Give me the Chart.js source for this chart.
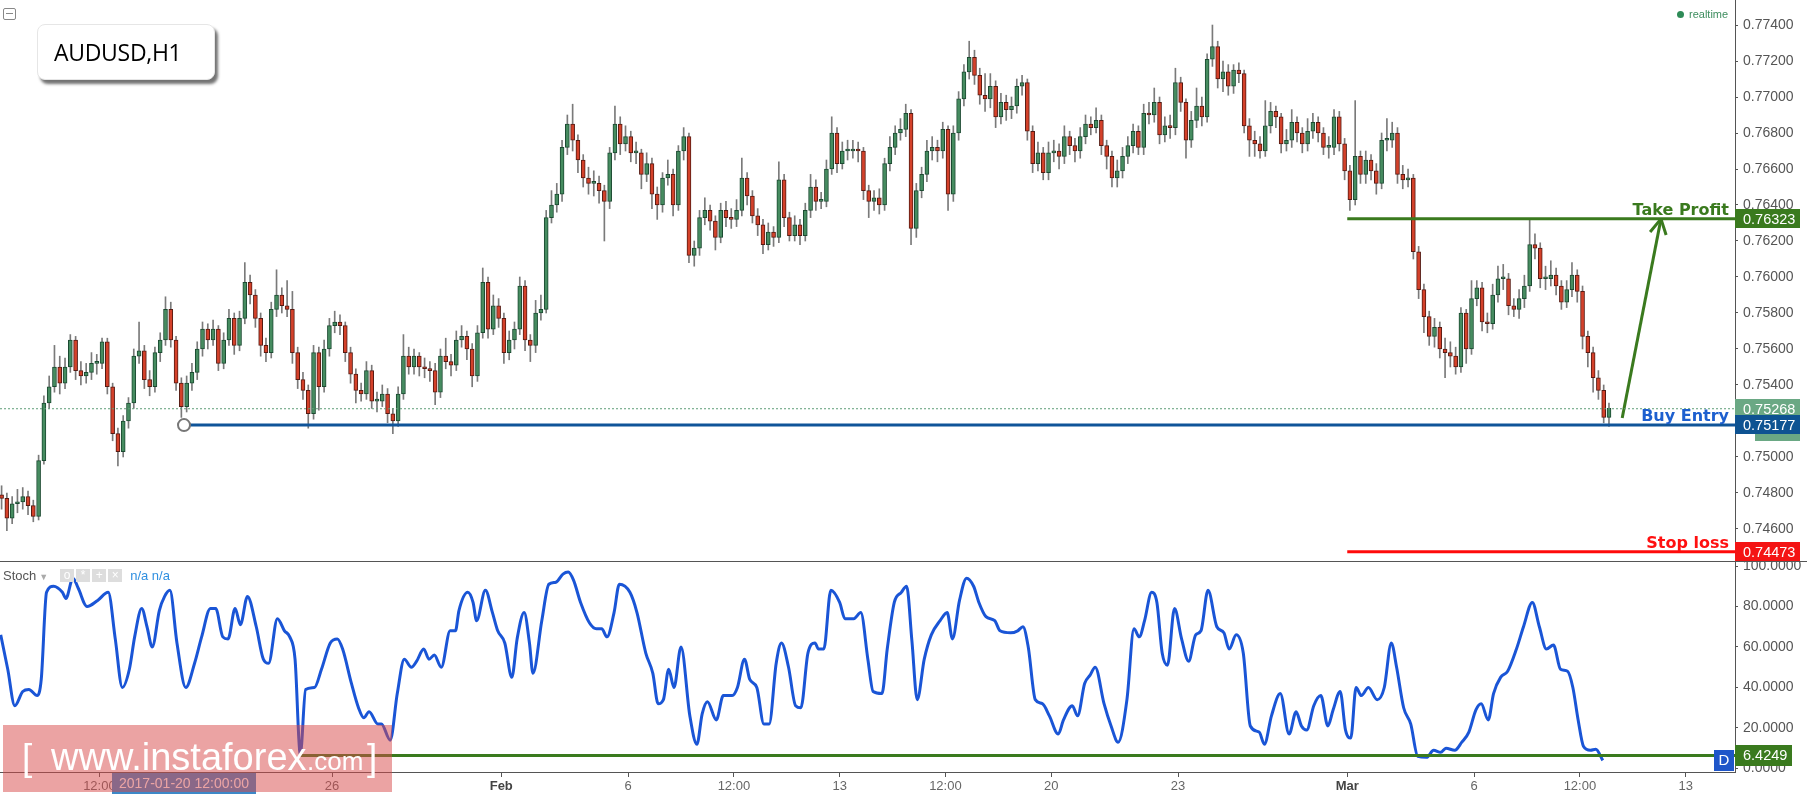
<!DOCTYPE html>
<html>
<head>
<meta charset="utf-8">
<title>AUDUSD,H1</title>
<script src="https://cdn.jsdelivr.net/npm/chart.js@4.4.1/dist/chart.umd.min.js"></script>
<style>
  html, body { margin: 0; padding: 0; background: #fff; }
  body { width: 1807px; height: 794px; position: relative; overflow: hidden; font-family: 'Liberation Sans', Arial, sans-serif; }
  #priceCanvas { position: absolute; left: 0; top: 0; }
  #stochCanvas { position: absolute; left: 0; top: 561px; }
  #collapse { position: absolute; left: 3px; top: 8px; width: 11px; height: 10px; border: 1px solid #888; border-radius: 2px; }
  #collapse:after { content: ''; position: absolute; left: 2px; right: 2px; top: 4px; height: 1px; background: #888; }
  #symbol { position: absolute; left: 37px; top: 24px; width: 178px; height: 56px; box-sizing: border-box; border: 1px solid #e6e6e6;
            border-radius: 8px; background: #fff; box-shadow: 3px 4px 3px rgba(0,0,0,0.55);
            font: 23px 'Open Sans', sans-serif; line-height: 54px; padding-left: 16px; color: #000; letter-spacing: -0.3px; }
  #realtime { position: absolute; left: 1677px; top: 6px; font-size: 11px; color: #3d8d5e; line-height: 16px; }
  #realtime span { display: inline-block; width: 7px; height: 7px; border-radius: 50%; background: #2e8b57; margin-right: 5px; vertical-align: 0; }
  #stochHead { position: absolute; left: 3px; top: 568px; height: 16px; font-size: 13px; line-height: 16px; color: #555; white-space: nowrap; }
  #stochHead .arrow { color: #aaa; font-size: 9px; margin-left: 3px; }
  #stochHead .btn { display: inline-block; width: 14px; height: 13px; background: #ddd; color: #fff; font-size: 12px; line-height: 13px; text-align: center; margin-right: 2px; vertical-align: 1px; }
  #stochHead .first { margin-left: 12px; }
  #stochHead .na { color: #2f8fe0; margin-left: 6px; }
  #watermark { position: absolute; left: 3px; top: 725px; width: 389px; height: 67px; background: rgba(215, 72, 72, 0.5); color: #fff; }
  #watermark span { position: absolute; white-space: nowrap; line-height: 1; }
</style>
</head>
<body>
<canvas id="priceCanvas" width="1807" height="561"></canvas>
<canvas id="stochCanvas" width="1807" height="233"></canvas>
<div id="collapse"></div>
<div id="symbol">AUDUSD,H1</div>
<div id="realtime"><span></span>realtime</div>
<div id="stochHead">Stoch<span class="arrow">&#9660;</span><span class="btn first">o</span><span class="btn">*</span><span class="btn">+</span><span class="btn">&#215;</span><span class="na">n/a n/a</span></div>
<div id="watermark">
  <span style="left:19px; top:14px; font-size:37px; font-weight:300;">[</span>
  <span style="left:48px; top:13px; font-size:38px;">www.instaforex</span>
  <span style="left:304px; top:23px; font-size:26px;">.com</span>
  <span style="left:364px; top:14px; font-size:37px; font-weight:300;">]</span>
</div>

<script>
// time axis is in trading hours counted from Mon 16 Jan 2017 00:00 (weekends skipped)
const X_MIN = 3.6;
const X_MAX = 988;
const tickHours = [60, 192, 288, 360, 420, 480, 540, 600, 672, 768, 840, 900, 960];
const tickLabels = ['12:00', '26', 'Feb', '6', '12:00', '13', '12:00', '20', '23', 'Mar', '6', '12:00', '13'];

// AUDUSD 3-hour candles, prices in pips (0.0001)
const BAR_HOURS = 3;
const FIRST_BAR_HOUR = 4.5;
const firstOpen = 7479;
const priceCloses = [
  7477,7466,7474,7475,7478,7473,7467,7498,7530,7539,
  7550,7541,7550,7565,7548,7545,7547,7552,7552,7564,
  7539,7513,7503,7520,7530,7556,7559,7543,7539,7558,
  7565,7582,7565,7541,7528,7541,7547,7560,7571,7565,
  7571,7552,7565,7577,7562,7577,7597,7590,7577,7562,
  7558,7582,7590,7584,7582,7558,7543,7537,7524,7558,
  7539,7560,7573,7575,7573,7558,7546,7537,7535,7548,
  7531,7531,7535,7524,7520,7535,7556,7550,7556,7550,
  7549,7548,7536,7556,7553,7551,7565,7567,7560,7545,
  7569,7597,7571,7584,7577,7558,7565,7571,7595,7565,
  7562,7580,7582,7633,7640,7646,7672,7685,7676,7665,
  7655,7652,7652,7648,7642,7669,7685,7674,7678,7669,
  7669,7657,7663,7646,7640,7655,7657,7640,7670,7678,
  7612,7616,7633,7637,7631,7622,7637,7633,7632,7637,
  7655,7645,7634,7629,7618,7625,7622,7654,7633,7623,
  7629,7623,7637,7650,7642,7642,7660,7680,7663,7670,
  7670,7671,7670,7648,7642,7644,7640,7663,7672,7680,
  7682,7691,7627,7648,7657,7670,7672,7670,7682,7646,
  7680,7699,7714,7722,7712,7701,7699,7706,7689,7697,
  7693,7695,7706,7708,7681,7663,7669,7658,7669,7670,
  7667,7678,7673,7670,7678,7685,7683,7687,7673,7667,
  7655,7659,7667,7673,7681,7672,7691,7690,7697,7679,
  7684,7683,7708,7697,7676,7687,7695,7689,7721,7728,
  7710,7714,7706,7715,7713,7684,7676,7674,7670,7684,
  7692,7689,7674,7676,7686,7680,7674,7681,7686,7680,
  7672,7672,7689,7674,7659,7643,7667,7657,7665,7659,
  7652,7676,7676,7680,7657,7654,7655,7614,7593,7578,
  7567,7572,7560,7558,7556,7550,7580,7560,7588,7594,
  7575,7574,7590,7599,7599,7584,7582,7588,7595,7618,
  7616,7599,7599,7601,7595,7586,7593,7601,7592,7567,
  7558,7544,7537,7522,7527
];
const priceHighs = [
  7484,7480,7478,7482,7483,7481,7476,7501,7534,7545,
  7562,7556,7555,7568,7567,7553,7552,7558,7557,7566,
  7566,7541,7516,7523,7533,7560,7575,7562,7548,7561,
  7569,7589,7586,7567,7544,7545,7552,7564,7575,7574,
  7576,7573,7569,7582,7580,7581,7608,7601,7593,7580,
  7566,7586,7604,7594,7598,7592,7561,7547,7540,7562,
  7561,7565,7577,7581,7579,7575,7561,7549,7541,7553,
  7551,7536,7540,7538,7527,7539,7568,7561,7560,7558,
  7555,7553,7552,7560,7566,7557,7570,7573,7570,7563,
  7573,7605,7600,7590,7588,7580,7570,7575,7600,7598,
  7568,7587,7590,7637,7648,7652,7676,7690,7696,7679,
  7668,7661,7659,7656,7651,7672,7695,7689,7684,7681,
  7675,7671,7669,7666,7650,7658,7665,7660,7673,7683,
  7680,7620,7637,7644,7640,7634,7641,7642,7638,7643,
  7666,7658,7648,7638,7632,7630,7628,7664,7657,7636,
  7634,7632,7641,7657,7654,7647,7665,7689,7683,7675,
  7676,7676,7675,7672,7651,7648,7649,7666,7678,7684,
  7688,7696,7693,7652,7661,7676,7678,7676,7686,7684,
  7684,7703,7718,7731,7726,7716,7713,7713,7709,7702,
  7701,7700,7710,7712,7710,7684,7675,7672,7675,7676,
  7674,7684,7681,7677,7683,7690,7689,7694,7690,7676,
  7670,7665,7672,7678,7685,7684,7696,7697,7705,7700,
  7689,7690,7716,7711,7699,7692,7705,7700,7724,7740,
  7731,7720,7718,7718,7719,7715,7688,7681,7678,7698,
  7697,7695,7691,7682,7693,7689,7683,7688,7691,7689,
  7683,7678,7693,7692,7677,7662,7698,7670,7670,7668,
  7663,7680,7688,7686,7683,7662,7660,7657,7617,7596,
  7581,7577,7575,7566,7564,7561,7583,7582,7598,7598,
  7597,7580,7596,7606,7607,7602,7588,7593,7601,7632,
  7624,7619,7606,7609,7605,7598,7598,7608,7604,7595,
  7570,7561,7548,7540,7530
];
const priceLows = [
  7471,7459,7463,7469,7471,7468,7464,7465,7496,7527,
  7536,7535,7538,7547,7543,7540,7541,7543,7546,7549,
  7535,7509,7495,7500,7516,7527,7552,7538,7534,7536,
  7553,7562,7561,7537,7522,7525,7537,7543,7556,7560,
  7562,7548,7549,7562,7557,7559,7574,7585,7572,7556,
  7553,7555,7578,7580,7578,7552,7538,7532,7516,7521,
  7526,7536,7556,7569,7568,7553,7541,7530,7531,7532,
  7527,7525,7528,7519,7513,7517,7532,7546,7546,7545,
  7544,7542,7529,7533,7549,7545,7548,7561,7554,7539,
  7542,7566,7566,7568,7572,7552,7554,7560,7568,7559,
  7553,7558,7576,7580,7630,7636,7642,7668,7670,7658,
  7650,7646,7645,7641,7620,7638,7665,7668,7670,7664,
  7663,7649,7653,7638,7632,7636,7651,7634,7637,7665,
  7608,7606,7612,7629,7626,7615,7619,7628,7627,7628,
  7634,7640,7630,7623,7613,7615,7617,7619,7628,7620,
  7620,7618,7620,7633,7637,7638,7639,7657,7658,7660,
  7665,7666,7664,7643,7633,7637,7635,7637,7659,7668,
  7676,7678,7618,7622,7644,7653,7665,7664,7666,7637,
  7642,7676,7695,7710,7707,7696,7692,7694,7683,7685,
  7687,7688,7691,7701,7676,7658,7659,7654,7654,7664,
  7660,7663,7668,7664,7666,7674,7679,7680,7668,7660,
  7650,7650,7655,7663,7669,7668,7668,7685,7686,7674,
  7675,7677,7679,7692,7666,7672,7683,7684,7686,7717,
  7705,7703,7701,7702,7708,7680,7667,7667,7666,7667,
  7680,7683,7669,7670,7672,7675,7669,7670,7677,7675,
  7668,7666,7668,7670,7654,7637,7640,7652,7652,7654,
  7646,7649,7670,7672,7652,7649,7650,7610,7588,7569,
  7562,7561,7555,7544,7550,7546,7547,7552,7557,7584,
  7570,7569,7571,7586,7593,7579,7578,7577,7583,7592,
  7610,7594,7593,7595,7590,7582,7583,7589,7586,7560,
  7550,7536,7532,7519,7517
];
const priceTicks = [7460, 7480, 7500, 7520, 7540, 7560, 7580, 7600, 7620, 7640, 7660, 7680, 7700, 7720, 7740];
const PRICE_MIN = 7442.2;
const PRICE_MAX = 7753.9;

// trade levels drawn on the chart
const levelNames = ['Take Profit', 'Buy Entry', 'Stop loss'];
const levelPrices = [7632.3, 7517.7, 7447.3];
const levelStartHours = [768, 108, 768];
const lastPrice = 7526.8;
const arrowHours = [924, 946];
const arrowPrices = [7521.7, 7632.3];

// stochastic %K
const stochHours = [
  4, 8, 12, 16.5, 20, 24.7, 27, 30, 34, 39,
  41, 45, 48, 53, 59, 65, 69, 73, 77, 80,
  84, 87, 90, 94, 97, 100, 104, 109, 114, 118,
  123, 126, 130, 133, 137, 140, 144, 149, 153, 156,
  161, 165, 168, 171, 174, 177, 182, 186, 191, 195,
  198, 203, 207, 210, 213, 218, 220, 225, 229, 233,
  237, 240, 244, 247, 250, 254, 259, 262, 264, 269,
  272, 274, 279, 283, 286, 290, 294, 297, 301, 304,
  306, 311, 315, 319, 323, 326, 329, 333, 338, 342,
  345, 348, 352, 355, 361, 365, 370, 374, 377, 380,
  383, 386, 390, 395, 399, 402, 405, 410, 414, 419,
  422, 426, 429, 433, 437, 440, 444, 447, 451, 455,
  458, 462, 466, 468, 471, 475, 480, 483, 488, 492,
  496, 499, 504, 507, 511, 515, 518, 521, 524, 528,
  532, 537, 541, 544, 548, 552, 556, 559, 563, 568,
  571, 577, 581, 584, 587, 591, 595, 599, 604, 607,
  612, 615, 619, 622, 625, 630, 634, 638, 643, 647,
  650, 653, 657, 660, 663, 666, 670, 674, 678, 682,
  685, 689, 694, 698, 701, 705, 709, 713, 718, 721,
  725, 730, 735, 739, 742, 745, 749, 753, 757, 760,
  764, 767, 770, 773, 776, 780, 785, 789, 793, 796,
  800, 804, 808, 813, 817, 821, 824, 829, 833, 837,
  841, 844, 848, 851, 855, 859, 864, 868, 873, 877,
  881, 885, 889, 893, 896, 899, 902, 906, 909, 913
];
const stochK = [
  66, 49, 31, 38, 39, 36, 44, 87, 90, 87,
  84, 94, 89, 80, 83, 87, 64, 40, 49, 65,
  79, 70, 60, 78, 85, 88, 62, 40, 52, 65,
  79, 79, 65, 64, 79, 71, 85, 70, 54, 52,
  74, 68, 65, 54, 7, 39, 40, 49, 62, 64,
  59, 42, 30, 25, 28, 22, 22, 14, 37, 54,
  50, 53, 59, 54, 56, 50, 68, 68, 78, 87,
  82, 73, 88, 77, 68, 62, 45, 64, 77, 62,
  47, 73, 91, 92, 96, 97, 93, 82, 72, 69,
  69, 65, 77, 91, 87, 77, 57, 47, 32, 34,
  49, 40, 60, 26, 12, 27, 33, 24, 36, 36,
  40, 54, 44, 40, 22, 22, 52, 62, 50, 31,
  30, 57, 62, 59, 59, 88, 82, 74, 74, 77,
  54, 38, 37, 59, 82, 87, 90, 63, 34, 54,
  66, 73, 77, 64, 83, 94, 90, 82, 75, 73,
  68, 67, 68, 70, 60, 34, 32, 26, 17, 24,
  31, 26, 42, 46, 50, 32, 21, 13, 34, 69,
  65, 73, 87, 82, 57, 51, 79, 64, 53, 66,
  68, 88, 70, 67, 59, 66, 57, 21, 18, 12,
  26, 37, 17, 28, 21, 19, 31, 36, 21, 29,
  38, 19, 15, 40, 36, 40, 34, 40, 62, 50,
  30, 22, 6, 5.5, 9, 8, 10, 9, 13, 18,
  29, 32, 24, 37, 45, 48, 59, 70, 82, 70,
  59, 61, 49, 48, 40, 24, 11, 9, 9.5, 4
];
const stochTicks = [0, 20, 40, 60, 80, 100];
const stochLevel = 6.4249;
const stochLevelStart = 174;
const crosshairHour = 108;
const crosshairText = '2017-01-20 12:00:00';

const AXIS_FONT = "'Liberation Sans', Arial, sans-serif";
const AXIS_WIDTH = 72;
const BULL = '#468c60', BULL_EDGE = '#1b4a31';
const BEAR = '#d4412a', BEAR_EDGE = '#561a12';
const TP_GREEN = '#3a7a1e';
const ENTRY_BLUE = '#0f5499';
const STOP_RED = '#ff0a0a';

const priceOpens = priceCloses.map((c, i) => i === 0 ? firstOpen : priceCloses[i - 1]);
const barHours = priceCloses.map((c, i) => FIRST_BAR_HOUR + BAR_HOURS * i);
const isUp = i => priceCloses[i] >= priceOpens[i];

function levelLine(price, from, color, width, dash) {
  return {
    type: 'line',
    data: [{ x: from, y: price }, { x: X_MAX, y: price }],
    borderColor: color,
    borderWidth: width,
    borderDash: dash || [],
    pointRadius: 0,
    order: 0
  };
}

function drawBox(ctx, x, y, w, h, bg) {
  ctx.fillStyle = bg;
  ctx.fillRect(x, y, w, h);
}

function boxText(ctx, text, x, y) {
  ctx.fillStyle = '#fff';
  ctx.font = '14.5px ' + AXIS_FONT;
  ctx.textAlign = 'left';
  ctx.textBaseline = 'middle';
  ctx.fillText(text, x, y + 1);
}

const priceMarks = {
  id: 'priceMarks',
  afterDatasetsDraw(chart) {
    const { ctx, scales: { x, y }, chartArea } = chart;
    const sx = x.getPixelForValue(arrowHours[0]), sy = y.getPixelForValue(arrowPrices[0]);
    const tx = x.getPixelForValue(arrowHours[1]), ty = y.getPixelForValue(arrowPrices[1]);
    const ang = Math.atan2(ty - sy, tx - sx);
    ctx.save();
    ctx.strokeStyle = TP_GREEN;
    ctx.lineWidth = 3;
    ctx.beginPath();
    [-0.5, 0.5].forEach(d => {
      ctx.moveTo(tx, ty);
      ctx.lineTo(tx - 17 * Math.cos(ang + d), ty - 17 * Math.sin(ang + d));
    });
    ctx.stroke();

    const textColors = ['#3a7a1e', '#1d5fcf', '#ff1010'];
    ctx.font = "bold 16px 'DejaVu Sans', Verdana, sans-serif";
    ctx.textAlign = 'right';
    ctx.textBaseline = 'alphabetic';
    levelNames.forEach((name, i) => {
      ctx.fillStyle = textColors[i];
      ctx.fillText(name, chartArea.right - 6, y.getPixelForValue(levelPrices[i]) - 4);
    });
    ctx.restore();
  },
  afterDraw(chart) {
    const { ctx, scales: { y }, chartArea } = chart;
    const r = chartArea.right;
    ctx.save();
    const pc = Math.round(y.getPixelForValue(lastPrice));
    drawBox(ctx, r, pc - 10, 65, 19, '#6aa884');
    drawBox(ctx, r + 20, pc - 10, 45, 42, '#6aa884');
    boxText(ctx, (lastPrice / 10000).toFixed(5), r + 8, pc);
    const boxColors = [TP_GREEN, '#0e5392', '#f41414'];
    levelPrices.forEach((p, i) => {
      const py = Math.round(y.getPixelForValue(p));
      drawBox(ctx, r, py - 10, 65, 19, boxColors[i]);
      boxText(ctx, (p / 10000).toFixed(5), r + 8, py);
    });
    ctx.restore();
  }
};

const stochMarks = {
  id: 'stochMarks',
  afterDraw(chart) {
    const { ctx, scales: { x, y }, chartArea } = chart;
    const r = chartArea.right;
    ctx.save();
    ctx.fillStyle = '#555';
    ctx.fillRect(0, 0, chart.width, 1);

    const ly = Math.round(y.getPixelForValue(stochLevel));
    drawBox(ctx, r, ly - 10, 57, 21, TP_GREEN);
    boxText(ctx, stochLevel.toFixed(4), r + 8, ly);
    drawBox(ctx, r - 21, ly - 5, 20, 21, '#1f56c9');
    ctx.fillStyle = '#fff';
    ctx.font = '15px ' + AXIS_FONT;
    ctx.textAlign = 'center';
    ctx.textBaseline = 'middle';
    ctx.fillText('D', r - 11, ly + 6);

    const cx = x.getPixelForValue(crosshairHour);
    drawBox(ctx, cx - 72, chartArea.bottom + 1, 144, 22, '#3d88c8');
    ctx.fillStyle = '#fff';
    ctx.font = '14px ' + AXIS_FONT;
    ctx.fillText(crosshairText, cx, chartArea.bottom + 12);
    ctx.restore();
  }
};

const rightAxis = (min, max, ticks, fmt) => ({
  position: 'right',
  min: min,
  max: max,
  afterBuildTicks: s => { s.ticks = ticks.map(v => ({ value: v })); },
  afterFit: s => { s.width = AXIS_WIDTH; s.paddingTop = 0; s.paddingBottom = 0; },
  ticks: { callback: fmt, color: '#555', padding: 5, font: { family: AXIS_FONT, size: 14 } },
  grid: { drawOnChartArea: false, tickLength: 3, color: '#555' },
  border: { color: '#555' }
});

new Chart(document.getElementById('priceCanvas'), {
  type: 'bar',
  data: {
    datasets: [
      levelLine(lastPrice, X_MIN, '#5f9e78', 1, [2, 2]),
      {
        type: 'line',
        data: [{ x: levelStartHours[1], y: levelPrices[1] }, { x: X_MAX, y: levelPrices[1] }],
        borderColor: ENTRY_BLUE,
        borderWidth: 3,
        pointRadius: [6, 0],
        pointBackgroundColor: '#fff',
        pointBorderColor: '#777',
        pointBorderWidth: 2,
        order: 0
      },
      levelLine(levelPrices[0], levelStartHours[0], TP_GREEN, 3),
      levelLine(levelPrices[2], levelStartHours[2], STOP_RED, 3),
      {
        type: 'line',
        data: [{ x: arrowHours[0], y: arrowPrices[0] }, { x: arrowHours[1], y: arrowPrices[1] }],
        borderColor: TP_GREEN,
        borderWidth: 3,
        pointRadius: 0,
        order: 0
      },
      {
        data: priceCloses.map((c, i) => ({ x: barHours[i], y: [priceOpens[i], c] })),
        backgroundColor: ctx => isUp(ctx.dataIndex) ? BULL : BEAR,
        borderColor: ctx => isUp(ctx.dataIndex) ? BULL_EDGE : BEAR_EDGE,
        borderWidth: 1,
        borderSkipped: false,
        barThickness: 4,
        minBarLength: 2,
        grouped: false,
        order: 1
      },
      {
        data: priceCloses.map((c, i) => ({ x: barHours[i], y: [priceLows[i], priceHighs[i]] })),
        backgroundColor: '#7a7a7a',
        borderWidth: 0,
        barThickness: 1,
        grouped: false,
        order: 2
      }
    ]
  },
  options: {
    responsive: false,
    devicePixelRatio: 1,
    animation: false,
    events: [],
    layout: { padding: 0, autoPadding: false },
    plugins: { legend: { display: false }, tooltip: { enabled: false } },
    scales: {
      x: { type: 'linear', min: X_MIN, max: X_MAX, offset: false, display: false, grid: { offset: false } },
      y: rightAxis(PRICE_MIN, PRICE_MAX, priceTicks, v => (v / 10000).toFixed(5))
    }
  },
  plugins: [priceMarks]
});

new Chart(document.getElementById('stochCanvas'), {
  type: 'line',
  data: {
    datasets: [
      {
        data: [{ x: stochLevelStart, y: stochLevel }, { x: X_MAX, y: stochLevel }],
        borderColor: TP_GREEN,
        borderWidth: 3,
        pointRadius: 0
      },
      {
        data: stochHours.map((h, i) => ({ x: h, y: stochK[i] })),
        borderColor: '#1a55d6',
        borderWidth: 3,
        pointRadius: 0,
        cubicInterpolationMode: 'monotone'
      }
    ]
  },
  options: {
    responsive: false,
    devicePixelRatio: 1,
    animation: false,
    events: [],
    layout: { padding: 0, autoPadding: false },
    plugins: { legend: { display: false }, tooltip: { enabled: false } },
    scales: {
      x: {
        type: 'linear',
        min: X_MIN,
        max: X_MAX,
        offset: false,
        afterBuildTicks: s => { s.ticks = tickHours.map(v => ({ value: v })); },
        afterFit: s => { s.height = 22; s.paddingLeft = 0; s.paddingRight = 0; },
        ticks: {
          autoSkip: false,
          maxRotation: 0,
          padding: 2,
          color: c => (tickLabels[c.index] === 'Feb' || tickLabels[c.index] === 'Mar') ? '#444' : '#666',
          font: c => ({
            family: AXIS_FONT,
            size: 13,
            weight: (tickLabels[c.index] === 'Feb' || tickLabels[c.index] === 'Mar') ? 'bold' : 'normal'
          }),
          callback: (v, i) => tickLabels[i]
        },
        grid: { drawOnChartArea: false, tickLength: 5, color: '#555', offset: false },
        border: { color: '#555' }
      },
      y: rightAxis(-1.73, 102.47, stochTicks, v => v.toFixed(4))
    }
  },
  plugins: [stochMarks]
});
</script>
</body>
</html>
